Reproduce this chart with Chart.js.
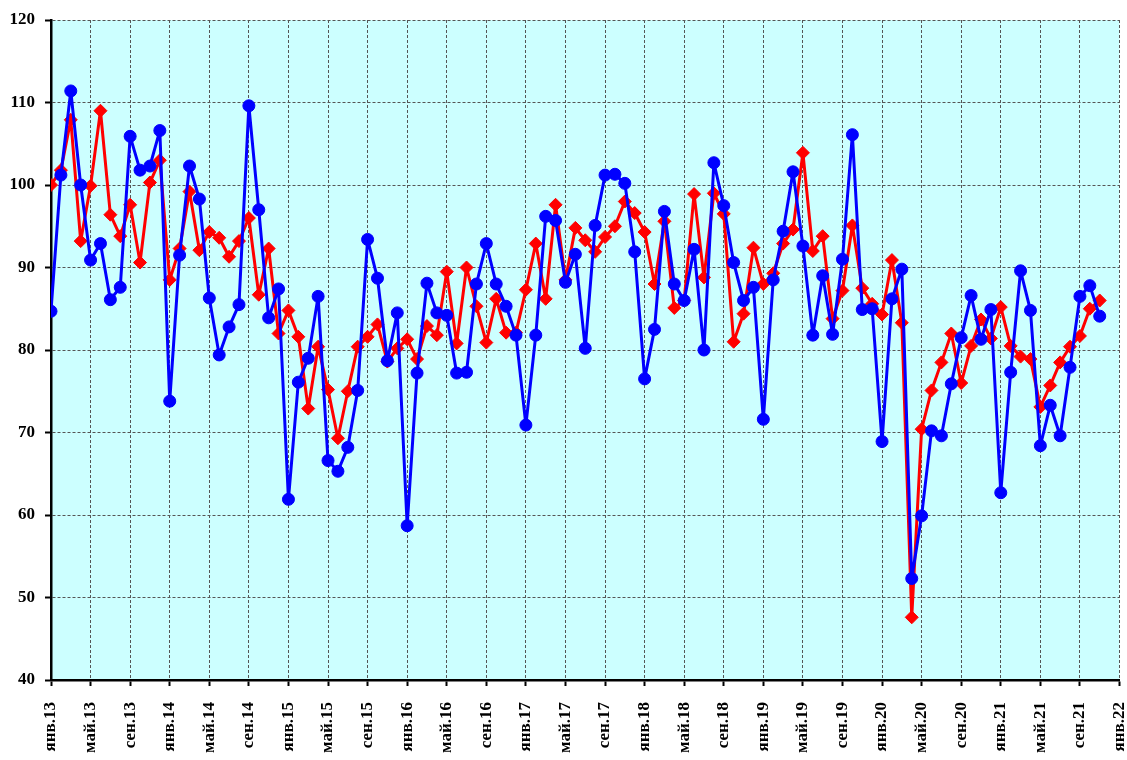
<!DOCTYPE html>
<html>
<head>
<meta charset="utf-8">
<script src="https://cdn.jsdelivr.net/npm/chart.js@4/dist/chart.umd.min.js"></script>
<style>
  html, body { margin: 0; padding: 0; background: #fff; }
  #wrap { width: 1127px; height: 760px; }
</style>
</head>
<body>
<div id="wrap"><canvas id="chart" width="1127" height="760"></canvas></div>
<script>
// Месячные данные, янв.13 - ноя.21
const tickLabels = [
    'янв.13', 'май.13', 'сен.13', 'янв.14', 'май.14', 'сен.14', 'янв.15',
    'май.15', 'сен.15', 'янв.16', 'май.16', 'сен.16', 'янв.17', 'май.17',
    'сен.17', 'янв.18', 'май.18', 'сен.18', 'янв.19', 'май.19', 'сен.19',
    'янв.20', 'май.20', 'сен.20', 'янв.21', 'май.21', 'сен.21', 'янв.22'
];

const blueSeries = [
    84.7, 101.2, 111.4, 100.0, 90.9, 92.9, 86.1, 87.6, 105.9, 101.8, 102.3, 106.6,
    73.8, 91.5, 102.3, 98.3, 86.3, 79.4, 82.8, 85.5, 109.6, 97.0, 83.9, 87.4,
    61.9, 76.1, 79.0, 86.5, 66.6, 65.3, 68.2, 75.1, 93.4, 88.7, 78.7, 84.5,
    58.7, 77.2, 88.1, 84.5, 84.2, 77.2, 77.3, 88.0, 92.9, 88.0, 85.3, 81.8,
    70.9, 81.8, 96.2, 95.7, 88.2, 91.6, 80.2, 95.1, 101.2, 101.3, 100.2, 91.9,
    76.5, 82.5, 96.8, 88.0, 86.0, 92.2, 80.0, 102.7, 97.5, 90.6, 86.0, 87.6,
    71.6, 88.5, 94.4, 101.6, 92.6, 81.8, 89.0, 81.9, 91.0, 106.1, 84.9, 85.0,
    68.9, 86.2, 89.8, 52.3, 59.9, 70.2, 69.6, 75.9, 81.5, 86.6, 81.3, 84.9,
    62.7, 77.3, 89.6, 84.8, 68.4, 73.3, 69.6, 77.9, 86.5, 87.8, 84.1
];

const redSeries = [
    100.0, 101.8, 107.9, 93.2, 99.9, 109.0, 96.4, 93.8, 97.6, 90.6, 100.3, 103.0,
    88.5, 92.3, 99.2, 92.1, 94.3, 93.6, 91.3, 93.2, 96.0, 86.7, 92.3, 82.0,
    84.8, 81.6, 72.9, 80.4, 75.2, 69.3, 75.0, 80.4, 81.6, 83.1, 78.6, 80.2,
    81.3, 78.9, 82.9, 81.8, 89.5, 80.8, 90.0, 85.3, 80.9, 86.2, 82.1, 82.1,
    87.3, 92.9, 86.2, 97.6, 88.5, 94.8, 93.3, 91.9, 93.7, 95.0, 98.0, 96.6,
    94.3, 88.0, 95.6, 85.1, 86.0, 98.9, 88.8, 99.0, 96.5, 81.0, 84.4, 92.4,
    88.0, 89.3, 92.9, 94.6, 103.9, 92.0, 93.8, 83.8, 87.2, 95.1, 87.5, 85.6,
    84.3, 90.9, 83.3, 47.6, 70.4, 75.1, 78.5, 82.0, 76.0, 80.5, 83.7, 81.4,
    85.2, 80.5, 79.2, 78.9, 73.1, 75.7, 78.5, 80.4, 81.7, 85.0, 86.0
];

// месяц -> точка (x = номер месяца от янв.13)
const toPoints = arr => arr.map((y, i) => ({ x: i, y }));

const font = { family: "'Liberation Serif', 'Times New Roman', serif", size: 17, weight: 'bold' };

// заливка области построения
const plotBg = {
    id: 'plotBg',
    beforeDraw(chart) {
        const { ctx, chartArea: a } = chart;
        ctx.save();
        ctx.fillStyle = '#CCFFFF';
        ctx.fillRect(a.left, a.top, a.right - a.left, a.bottom - a.top);
        ctx.restore();
    }
};

new Chart(document.getElementById('chart'), {
    type: 'line',
    data: {
        datasets: [
            {
                data: toPoints(blueSeries),
                borderColor: '#0000FF',
                backgroundColor: '#0000FF',
                borderWidth: 3,
                borderJoinStyle: 'round',
                pointStyle: 'circle',
                pointRadius: 6,
                pointBorderWidth: 1,
                tension: 0
            },
            {
                data: toPoints(redSeries),
                borderColor: '#FF0000',
                backgroundColor: '#FF0000',
                borderWidth: 3,
                borderJoinStyle: 'round',
                pointStyle: 'rectRot',
                pointRadius: 6.5,
                pointBorderWidth: 1,
                tension: 0
            }
        ]
    },
    options: {
        responsive: false,
        animation: false,
        layout: { padding: { top: 20, right: 7, left: 0, bottom: 0 } },
        plugins: { legend: { display: false }, tooltip: { enabled: false } },
        scales: {
            x: {
                type: 'linear',
                min: 0,
                max: 108,
                afterFit: s => { s.height = 80; s.paddingLeft = 0; s.paddingRight = 0; },
                ticks: {
                    stepSize: 4,
                    autoSkip: false,
                    minRotation: 90,
                    maxRotation: 90,
                    padding: 16,
                    color: '#000',
                    font,
                    callback: v => tickLabels[v / 4]
                },
                grid: { color: '#555', tickColor: '#000', tickWidth: 2, tickLength: 6, lineWidth: 1 },
                border: { color: '#000', width: 2.5, dash: [3, 2] }
            },
            y: {
                min: 40,
                max: 120,
                afterFit: s => { s.width = 51; s.paddingTop = 0; s.paddingBottom = 0; },
                ticks: { stepSize: 10, padding: 10, color: '#000', font },
                grid: { color: '#555', tickColor: '#000', tickWidth: 2, tickLength: 6, lineWidth: 1 },
                border: { color: '#000', width: 2.5, dash: [3, 2] }
            }
        }
    },
    plugins: [plotBg]
});
</script>
</body>
</html>
